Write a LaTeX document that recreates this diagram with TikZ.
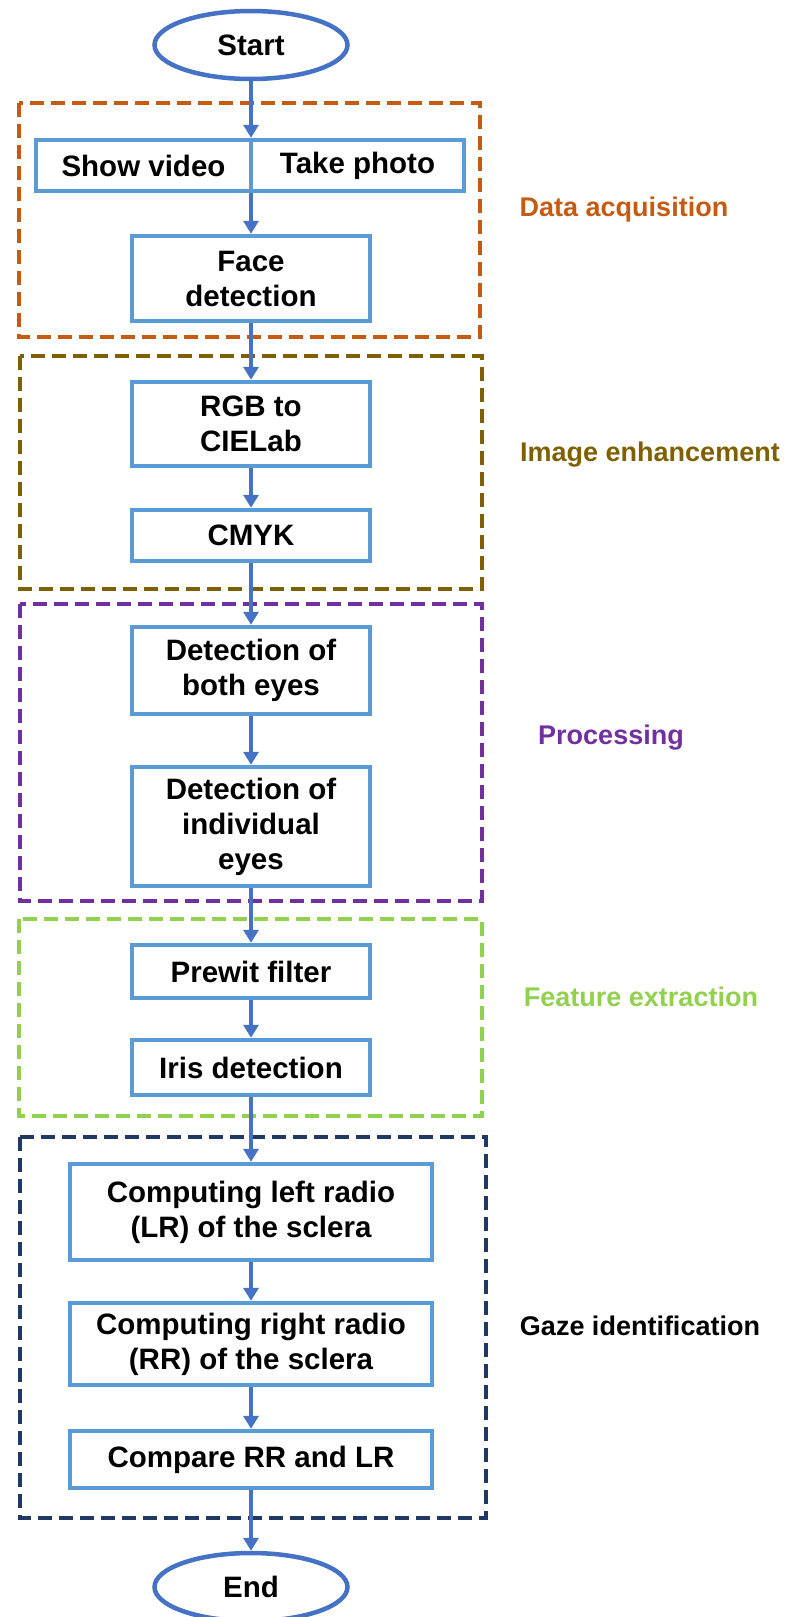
\documentclass[tikz,border=0pt]{standalone}
\usepackage{fontspec}
\setmainfont{Liberation Sans}
\usetikzlibrary{shapes.geometric,arrows.meta}
\definecolor{boxblue}{HTML}{5B9BD5}
\definecolor{arrblue}{HTML}{4472C4}
\definecolor{cOrange}{HTML}{C55A11}
\definecolor{cBrown}{HTML}{7F6000}
\definecolor{cPurple}{HTML}{7030A0}
\definecolor{cGreen}{HTML}{92D050}
\definecolor{cNavy}{HTML}{1F3864}
\tikzset{
  stepbox/.style={draw=boxblue, line width=4.5pt, fill=white, rectangle, inner sep=0pt,
    align=center, font=\fontsize{29.5}{35}\selectfont\bfseries},
  term/.style={draw=arrblue, line width=4.5pt, fill=white, ellipse, inner sep=0pt,
    minimum width=193pt, minimum height=68pt, font=\fontsize{29.5}{35}\selectfont\bfseries},
  arr/.style={draw=arrblue, line width=3.5pt, -{Triangle[length=13pt,width=15pt]}},
  grp/.style={line width=4.5pt, dash pattern=on 14pt off 7pt},
  lbl/.style={anchor=base, inner sep=0pt, font=\fontsize{27}{32}\selectfont\bfseries}
}
\begin{document}
\begin{tikzpicture}[x=1pt,y=-1pt]
\useasboundingbox (0,0) rectangle (786,1617);
% group frames
\draw[grp, cOrange] (19,103) rectangle (480,337);
\draw[grp, cBrown] (20,356) rectangle (482,589);
\draw[grp, cPurple] (20,604) rectangle (482,901);
\draw[grp, cGreen] (19,919) rectangle (482,1116);
\draw[grp, cNavy] (20,1137) rectangle (486,1518);
% nodes
\node[term] (start) at (251,45) {Start};
\node[stepbox, minimum width=215pt, minimum height=51pt] (show) at (143.5,165.5) {Show video};
\node[stepbox, minimum width=213pt, minimum height=51pt] (take) at (357.5,165.5) {Take photo};
\node[stepbox, minimum width=238pt, minimum height=85pt] (face) at (251,278.5) {Face\\detection};
\node[stepbox, minimum width=238pt, minimum height=84pt] (rgb) at (251,424) {RGB to\\CIELab};
\node[stepbox, minimum width=238pt, minimum height=51pt] (cmyk) at (251,535.5) {CMYK};
\node[stepbox, minimum width=238pt, minimum height=87pt] (both) at (251,670.5) {Detection of\\both eyes};
\node[stepbox, minimum width=238pt, minimum height=119pt] (ind) at (251,826.5) {Detection of\\individual\\eyes};
\node[stepbox, minimum width=238pt, minimum height=53pt] (prewit) at (251,971.5) {Prewit filter};
\node[stepbox, minimum width=238pt, minimum height=55pt] (iris) at (251,1067.5) {Iris detection};
\node[stepbox, minimum width=362pt, minimum height=96pt] (compl) at (251,1212) {Computing left radio\\(LR) of the sclera};
\node[stepbox, minimum width=362pt, minimum height=82pt] (compr) at (251,1344) {Computing right radio\\(RR) of the sclera};
\node[stepbox, minimum width=362pt, minimum height=57pt] (cmp) at (251,1459.5) {Compare RR and LR};
\node[term] (end) at (251,1587) {End};
% connectors
\draw[arr] (start.south) -- (start.south |- show.north);
\draw[arr] (face.north |- show.south) -- (face.north);
\draw[arr] (face.south) -- (rgb.north);
\draw[arr] (rgb.south) -- (cmyk.north);
\draw[arr] (cmyk.south) -- (both.north);
\draw[arr] (both.south) -- (ind.north);
\draw[arr] (ind.south) -- (prewit.north);
\draw[arr] (prewit.south) -- (iris.north);
\draw[arr] (iris.south) -- (compl.north);
\draw[arr] (compl.south) -- (compr.north);
\draw[arr] (compr.south) -- (cmp.north);
\draw[arr] (cmp.south) -- (end.north);
% labels
\node[lbl, text=cOrange] (lacq) at (624,216) {Data acquisition};
\node[lbl, text=cBrown] (lenh) at (650,461) {Image enhancement};
\node[lbl, text=cPurple] (lproc) at (611,744) {Processing};
\node[lbl, text=cGreen] (lfeat) at (641,1006) {Feature extraction};
\node[lbl, text=black] (lgaze) at (640,1335) {Gaze identification};
\end{tikzpicture}
\end{document}
